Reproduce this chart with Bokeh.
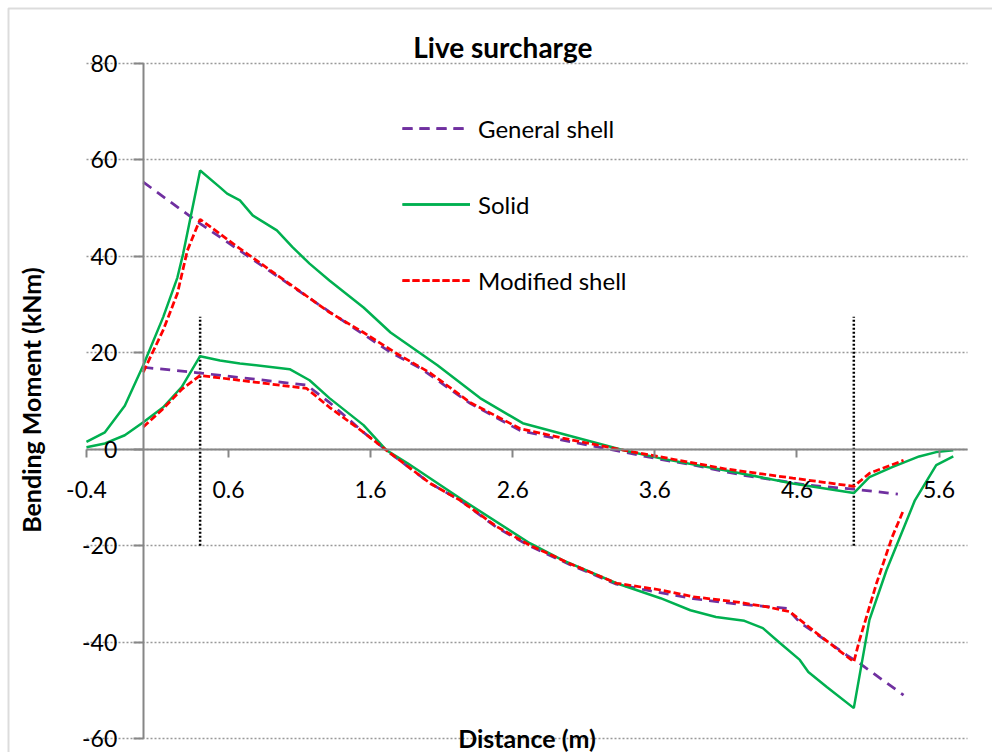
import math
from bokeh.plotting import figure
from bokeh.models import Range1d, FixedTicker, PrintfTickFormatter, Legend, LegendItem, Label, BoxAnnotation
from bokeh.embed import file_html
from bokeh.resources import INLINE

FONT = "Lato"

# ---------------- data ----------------
x_tick_values = [-0.4, 0.6, 1.6, 2.6, 3.6, 4.6, 5.6]
y_tick_values = [-60, -40, -20, 0, 20, 40, 60, 80]
x_bounds = (-0.4, 5.8)
y_bounds = (-60, 80)

# General shell (purple dashed) - two branches
gen_up_x = [0.0, 0.4, 1.31, 1.74, 1.95, 2.3, 2.65, 2.95, 3.38, 3.64, 3.87, 4.22, 4.69, 5.0, 5.31]
gen_up_y = [55.4, 46.8, 28.5, 20.1, 16.8, 9.5, 3.9, 1.9, -0.6, -2.1, -3.3, -5.4, -7.5, -8.3, -9.3]
gen_lo_x = [0.0, 0.4, 1.03, 1.15, 1.31, 1.55, 1.71, 2.02, 2.23, 2.49, 2.72, 3.0, 3.33, 3.57, 3.87,
            4.18, 4.53, 4.62, 4.95, 5.04, 5.35]
gen_lo_y = [17.0, 15.8, 13.7, 13.3, 9.7, 3.5, -0.2, -7.1, -10.6, -16.3, -20.1, -23.9, -28.0, -29.4, -31.0,
            -32.1, -33.0, -35.9, -42.7, -44.4, -51.0]

# Solid (green) - two branches
sol_up_x = [-0.4, -0.27, -0.13, 0.0, 0.14, 0.24, 0.28, 0.4, 0.54, 0.59, 0.68, 0.77, 0.94, 1.05, 1.17,
            1.31, 1.55, 1.74, 2.07, 2.37, 2.67, 3.38, 3.64, 4.1, 4.57, 5.0, 5.11, 5.27, 5.46, 5.58, 5.7]
sol_up_y = [1.5, 3.5, 9.0, 17.4, 27.4, 35.6, 40.5, 57.8, 54.3, 53.0, 51.6, 48.5, 45.4, 41.9, 38.5,
            35.0, 29.4, 24.2, 17.4, 10.6, 5.4, -0.2, -1.9, -4.4, -7.1, -9.1, -5.8, -3.7, -1.5, -0.6, -0.2]
sol_lo_x = [-0.4, -0.27, -0.13, 0.0, 0.14, 0.27, 0.4, 0.54, 0.68, 1.03, 1.17, 1.31, 1.55, 1.71, 1.86,
            2.25, 2.72, 2.95, 3.33, 3.64, 3.85, 4.03, 4.23, 4.36, 4.48, 4.62, 4.68, 4.81, 5.0, 5.11,
            5.23, 5.43, 5.58, 5.7]
sol_lo_y = [0.4, 1.2, 2.9, 5.6, 8.7, 12.9, 19.3, 18.4, 17.8, 16.6, 14.3, 10.6, 5.0, -0.2, -2.9,
            -10.6, -19.5, -23.0, -27.8, -30.9, -33.4, -34.8, -35.6, -37.1, -40.2, -43.7, -46.2, -49.3, -53.7, -35.4,
            -25.1, -10.6, -3.3, -1.5]

# Modified shell (red dashed) - two branches
mod_up_x = [0.0, 0.14, 0.24, 0.31, 0.4, 0.68, 1.31, 1.55, 1.78, 2.02, 2.3, 2.65, 2.95, 3.38, 3.64,
            4.1, 4.57, 5.0, 5.11, 5.35]
mod_up_y = [16.0, 24.7, 32.3, 41.2, 47.7, 41.6, 28.4, 24.2, 19.9, 15.8, 9.7, 4.3, 2.3, -0.2, -1.6,
            -4.1, -6.0, -7.7, -5.0, -2.3]
mod_lo_x = [0.0, 0.14, 0.27, 0.4, 1.15, 1.31, 1.55, 1.71, 2.02, 2.23, 2.49, 2.72, 3.0, 3.33, 3.64,
            3.87, 4.18, 4.39, 4.55, 4.74, 5.0, 5.04, 5.16, 5.27, 5.35]
mod_lo_y = [4.6, 8.4, 12.4, 15.3, 12.6, 8.7, 3.5, -0.2, -7.1, -10.6, -16.1, -19.9, -23.7, -27.8, -29.2,
            -30.6, -31.7, -32.7, -33.7, -38.2, -44.1, -39.6, -27.8, -18.2, -12.6]

# support markers (vertical dotted lines)
support_x = [0.4, 5.0]
support_y0 = [-20, -20]
support_y1 = [27.5, 27.5]

# ---------------- figure ----------------
# The frame fills the whole canvas; the data area (-0.4..5.8, -60..80) sits inside it
p = figure(width=992, height=752,
           x_range=Range1d(-1.0048, 5.976), y_range=Range1d(-62.904, 93.067),
           output_backend="svg", toolbar_location=None,
           min_border_left=0, min_border_right=0, min_border_top=0, min_border_bottom=0)
p.title.visible = False
p.outline_line_color = None
p.background_fill_color = "white"
p.border_fill_color = "white"

# chart-area border (left and top visible)
p.add_layout(BoxAnnotation(left=-0.9485, top=91.41, right=6.5, bottom=-70,
                           fill_alpha=0, line_color="#8c8c8c", line_width=2))

# axes crossing at zero
for ax, b in ((p.xaxis[0], x_bounds), (p.yaxis[0], y_bounds)):
    ax.fixed_location = 0
    ax.bounds = b
    ax.axis_line_color = "#868686"
    ax.axis_line_width = 2
    ax.major_tick_line_color = "#868686"
    ax.major_tick_line_width = 2
    ax.major_tick_in = 0
    ax.minor_tick_line_color = None
    ax.major_label_text_font = FONT
    ax.major_label_text_font_size = "23px"
    ax.major_label_text_color = "black"

p.xaxis.ticker = FixedTicker(ticks=x_tick_values)
p.xaxis.formatter = PrintfTickFormatter(format="%.1f")
p.xaxis.major_tick_out = 8
p.xaxis.major_label_standoff = 24

p.yaxis.ticker = FixedTicker(ticks=y_tick_values)
p.yaxis.formatter = PrintfTickFormatter(format="%d")
p.yaxis.major_tick_out = 10
p.yaxis.major_label_standoff = 16

p.xgrid.visible = False
p.ygrid.ticker = FixedTicker(ticks=y_tick_values)
p.ygrid.grid_line_color = "#999999"
p.ygrid.grid_line_width = 1.5
p.ygrid.grid_line_dash = "2 2"
try:
    p.ygrid.cross_bounds = x_bounds
except Exception:
    p.ygrid.visible = False
    p.segment(x0=[x_bounds[0]] * len(y_tick_values), x1=[x_bounds[1]] * len(y_tick_values),
              y0=y_tick_values, y1=y_tick_values,
              line_color="#999999", line_width=1.5, line_dash="2 2")

# support lines
p.segment(x0=support_x, y0=support_y0, x1=support_x, y1=support_y1,
          line_color="black", line_width=2.5, line_dash="2 2")

# series
PURPLE = "#7030A0"
GREEN = "#00B050"
RED = "#FF0000"

g1 = p.line(gen_up_x, gen_up_y, line_color=PURPLE, line_width=2.75, line_dash="10 7")
g2 = p.line(gen_lo_x, gen_lo_y, line_color=PURPLE, line_width=2.75, line_dash="10 7")
s1 = p.line(sol_up_x, sol_up_y, line_color=GREEN, line_width=2.5)
s2 = p.line(sol_lo_x, sol_lo_y, line_color=GREEN, line_width=2.5)
m1 = p.line(mod_up_x, mod_up_y, line_color=RED, line_width=2.75, line_dash="7 3")
m2 = p.line(mod_lo_x, mod_lo_y, line_color=RED, line_width=2.75, line_dash="7 3")

legend = Legend(items=[
    LegendItem(label="General shell", renderers=[g1, g2]),
    LegendItem(label="Solid", renderers=[s1, s2]),
    LegendItem(label="Modified shell", renderers=[m1, m2]),
], location=(402, 457))
legend.glyph_width = 68
legend.glyph_height = 30
legend.label_height = 30
legend.spacing = 46
legend.padding = 0
legend.margin = 0
legend.label_standoff = 8
legend.border_line_color = None
legend.background_fill_alpha = 0
legend.label_text_font = FONT
legend.label_text_font_size = "24px"
legend.label_text_color = "black"
p.add_layout(legend)

# titles
p.add_layout(Label(x=2.53, y=83.5, text="Live surcharge", text_font=FONT, text_font_size="28px",
                   text_font_style="bold", text_align="center", text_baseline="middle",
                   text_color="black"))
p.add_layout(Label(x=2.70, y=-59.8, text="Distance (m)", text_font=FONT, text_font_size="25px",
                   text_font_style="bold", text_align="center", text_baseline="middle",
                   text_color="black"))
p.add_layout(Label(x=-0.79, y=10.2, text="Bending Moment (kNm)", text_font=FONT, text_font_size="25px",
                   text_font_style="bold", text_align="center", text_baseline="middle",
                   angle=math.pi / 2, text_color="black"))

open("out.html", "w").write(file_html(p, INLINE))
